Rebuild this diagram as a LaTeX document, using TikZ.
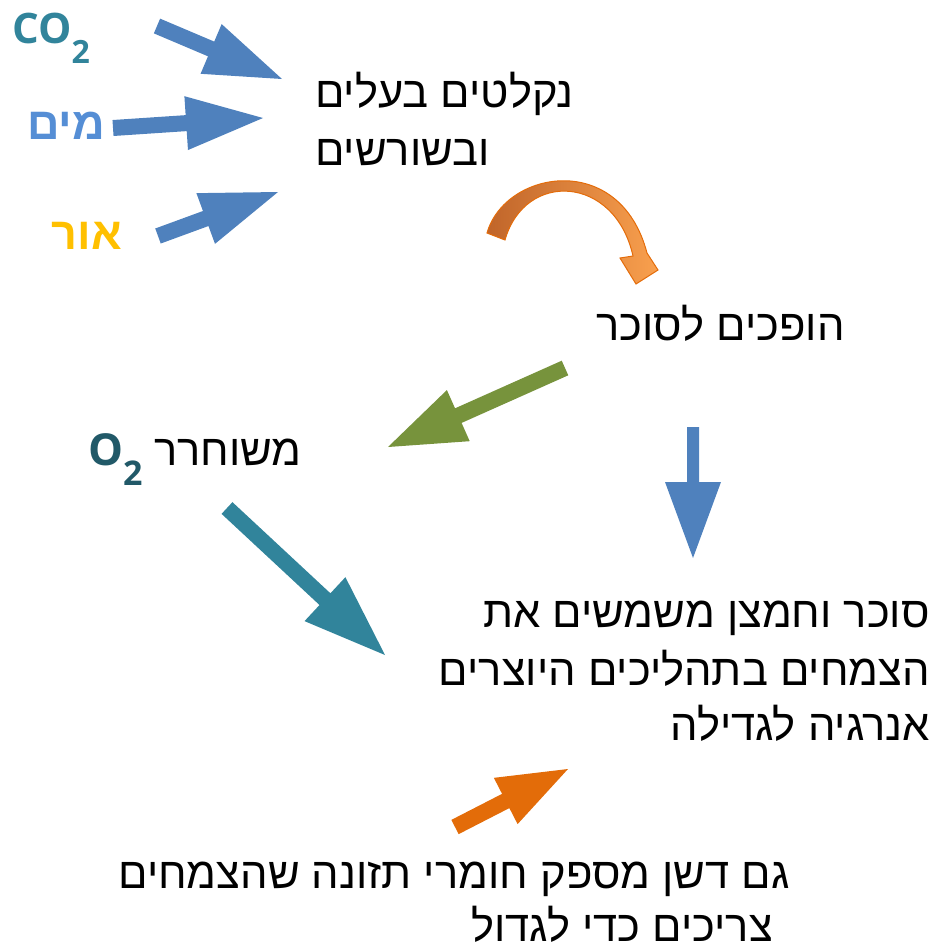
\documentclass[tikz,border=0pt]{standalone}
\usepackage{fontspec}
\setmainfont{Open Sans}
\newfontfamily\heb[Script=Hebrew]{Liberation Sans}
\TeXXeTstate=1
\usetikzlibrary{calc}
\definecolor{arrblue}{HTML}{4F81BD}
\definecolor{arrgreen}{HTML}{77933C}
\definecolor{arrteal}{HTML}{31849B}
\definecolor{arrorange}{HTML}{E36C09}
\definecolor{curvedark}{HTML}{C0652A}
\definecolor{curvelight}{HTML}{F9A04E}
\definecolor{curveline}{HTML}{E46C0A}
\definecolor{cotwo}{HTML}{31849B}
\definecolor{water}{HTML}{558ED5}
\definecolor{light}{HTML}{FFC000}
\definecolor{otwo}{HTML}{215968}
\newcommand\fatarrow[6]{%
  \coordinate (fa-c) at ($(#3)!#4!(#2)$);
  \fill[#1] ($(#2)!#6!90:(#3)$) -- ($(fa-c)!#6!90:(#3)$) -- ($(fa-c)!#5!90:(#3)$) -- (#3)
    -- ($(fa-c)!#5!-90:(#3)$) -- ($(fa-c)!#6!-90:(#3)$) -- ($(#2)!#6!-90:(#3)$) -- cycle;
}
\tikzset{
  txt/.style={inner sep=0pt, font={\heb\fontsize{43.5}{57}\selectfont}},
  boldtxt/.style={inner sep=0pt, font={\heb\bfseries\fontsize{45}{48}\selectfont}},
}
\begin{document}
\begin{tikzpicture}[x=1pt,y=-1pt]
\useasboundingbox (0,0) rectangle (940,946);
% input labels
\node[inner sep=0pt, anchor=base west, text=cotwo, font={\bfseries\fontsize{42}{44}\selectfont}] (co2) at (12,43)
  {CO\raisebox{-20pt}{\fontsize{32}{34}\selectfont 2}};
\node[boldtxt, anchor=base east, text=water] (mim) at (105,139) {\beginR מים\endR};
\node[boldtxt, anchor=base east, text=light] (or) at (122,249) {\beginR אור\endR};
% input arrows
\coordinate (a1s) at (157,26); \coordinate (a1t) at (282,79);
\coordinate (a2s) at (113,128); \coordinate (a2t) at (263,118);
\coordinate (a3s) at (158,236); \coordinate (a3t) at (278,192);
\fatarrow{arrblue}{a1s}{a1t}{77pt}{27pt}{8pt}
\fatarrow{arrblue}{a2s}{a2t}{77pt}{27pt}{8pt}
\fatarrow{arrblue}{a3s}{a3t}{77pt}{27pt}{8pt}
% absorbed text
\node[txt, anchor=base west] (abs1) at (315,107) {\beginR נקלטים בעלים\endR};
\node[txt, anchor=base west] (abs2) at (315,165) {\beginR ובשורשים\endR};
% curved orange arrow
\shade[left color=curvedark, right color=curvelight, draw=curveline, line width=1pt]
  (487,233) .. controls (505,170) and (620,150) .. (647,253) -- (658,270) -- (636,284)
  -- (620,258) -- (633,256) .. controls (615,175) and (525,170) .. (505,240) -- cycle;
% sugar
\node[txt, anchor=base east] (sugar) at (845,340) {\beginR הופכים לסוכר\endR};
% green arrow
\coordinate (gs) at (565,368); \coordinate (gt) at (388,447);
\fatarrow{arrgreen}{gs}{gt}{77pt}{28pt}{8pt}
% O2 released
\node[txt, anchor=base east] (rel) at (302,465) {\beginR משוחרר\endR};
\node[inner sep=0pt, anchor=base west, text=otwo, font={\bfseries\fontsize{44}{46}\selectfont}] (o2) at (88,465)
  {O\raisebox{-20pt}{\fontsize{34}{36}\selectfont 2}};
% teal arrow
\coordinate (ts) at (227,508); \coordinate (tt) at (385,655);
\fatarrow{arrteal}{ts}{tt}{82pt}{30pt}{8pt}
% blue down arrow
\coordinate (bs) at (693,427); \coordinate (bt) at (693,558);
\fatarrow{arrblue}{bs}{bt}{76pt}{28pt}{6pt}
% energy text
\node[txt, anchor=base east] (en1) at (930,627) {\beginR סוכר וחמצן משמשים את\endR};
\node[txt, anchor=base east] (en2) at (930,685) {\beginR הצמחים בתהליכים היוצרים\endR};
\node[txt, anchor=base east] (en3) at (930,740) {\beginR אנרגיה לגדילה\endR};
% orange arrow
\coordinate (os) at (455,827); \coordinate (ot) at (568,769);
\fatarrow{arrorange}{os}{ot}{70pt}{26pt}{8pt}
% fertilizer text
\node[txt, anchor=base east] (f1) at (790,888) {\beginR גם דשן מספק חומרי תזונה שהצמחים\endR};
\node[txt, anchor=base east] (f2) at (773,941) {\beginR צריכים כדי לגדול\endR};
\end{tikzpicture}
\end{document}
